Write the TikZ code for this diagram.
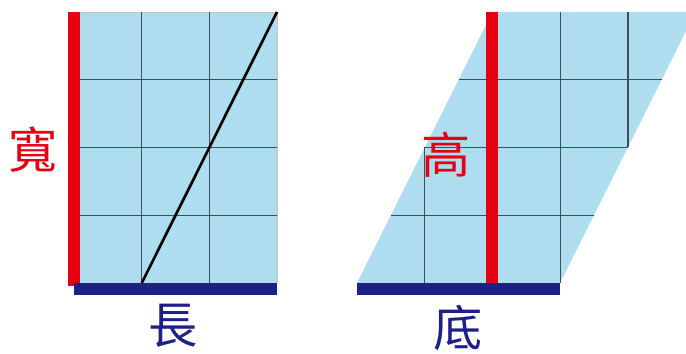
\documentclass[tikz,border=0pt]{standalone}
\usepackage{fontspec}
\newfontfamily\cjk{Noto Sans CJK TC}
\usepackage{tikz}
\definecolor{cellfill}{HTML}{ADDDEF}
\definecolor{sidered}{HTML}{E60012}
\definecolor{basenavy}{HTML}{1D2088}
\definecolor{gridgray}{HTML}{3E4E54}
\tikzset{
  gridline/.style={draw=gridgray,line width=0.65pt},
  edgeline/.style={draw=gray!45,line width=0.5pt},
  redbar/.style={fill=sidered,draw=none},
  navybar/.style={fill=basenavy,draw=none},
  bigchar/.style={font=\cjk\fontsize{28}{28}\selectfont,inner sep=0pt}
}

\begin{document}
\begin{tikzpicture}[x=0.02cm,y=-0.02cm]
  \useasboundingbox (0,0) rectangle (686,354);

  % rectangle
  \fill[cellfill] (74,12) rectangle (277,283);
  \draw[edgeline] (74,12) -- (277,12) -- (277,283);
  \foreach \x in {141.75,209.5} {
    \draw[gridline] (\x,12) -- (\x,283);
  }
  \foreach \y in {79.75,147.5,215.25} {
    \draw[gridline] (74,\y) -- (277,\y);
  }
  \draw[black,line width=1.5pt] (141.75,283) -- (277,12);
  \fill[redbar] (68,12) rectangle (80,286);
  \fill[navybar] (74,283) rectangle (277,295);
  \node[bigchar,text=sidered] (kuan) at (33,150) {寬};
  \node[bigchar,text=basenavy] (chang) at (173,326) {長};

  % parallelogram
  \fill[cellfill] (357,283) -- (560,283) -- (695.5,12) -- (492.5,12) -- cycle;
  \draw[gridline] (424.75,147.5) -- (424.75,283);
  \draw[gridline] (560.25,12) -- (560.25,283);
  \draw[gridline] (628,12) -- (628,147.5);
  \draw[gridline] (458.6,79.75) -- (661.9,79.75);
  \draw[gridline] (424.75,147.5) -- (628,147.5);
  \draw[gridline] (390.9,215.25) -- (594,215.25);
  \fill[redbar] (485.5,12) rectangle (497.5,283);
  \fill[navybar] (357,283) rectangle (560,295);
  \node[bigchar,text=sidered] (gao) at (446,155) {高};
  \node[bigchar,text=basenavy] (di) at (458,328) {底};
\end{tikzpicture}
\end{document}
